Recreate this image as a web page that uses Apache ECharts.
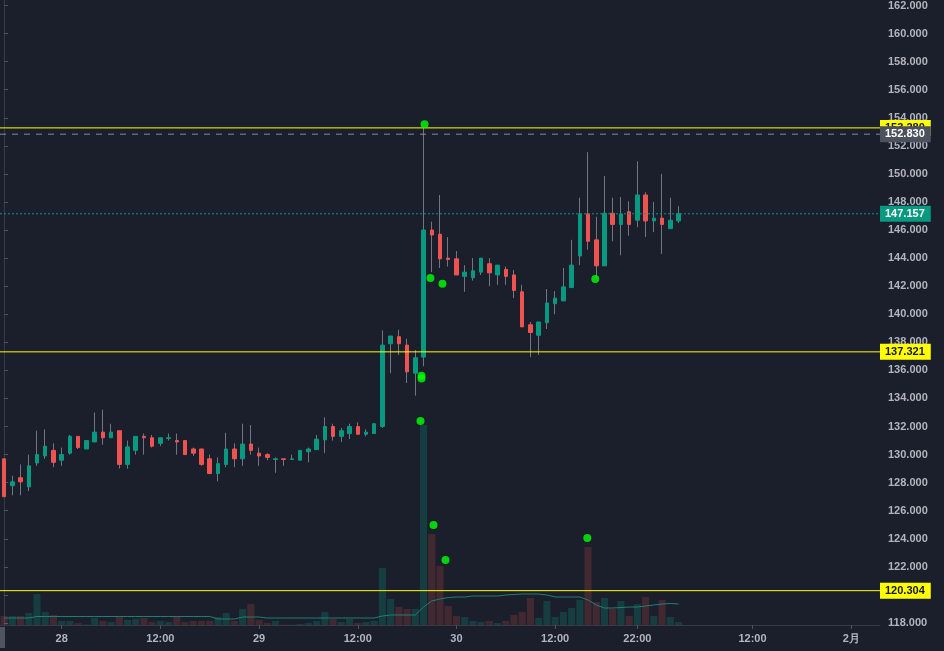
<!DOCTYPE html>
<html><head><meta charset="utf-8">
<script src="https://cdn.jsdelivr.net/npm/echarts@6/dist/echarts.min.js"></script>
<style>html,body{margin:0;padding:0;background:#1b1f2b;overflow:hidden}#c{width:944px;height:651px}</style>
</head><body><div id="c"></div>
<script>
// hourly categories from 27th 17:00 to Feb 1 03:00
const categories = [];
(function(){ let d=27,h=17; for(let i=0;i<107;i++){ categories.push((d>31?'2/1':'1/'+d)+' '+String(h).padStart(2,'0')+':00'); h++; if(h===24){h=0;d++;} } })();

const openP  = [129.7,127.78,128.35,127.7,129.4,129.9,130.3,129.6,130.1,131.3,130.4,130.9,131.6,131.2,131.7,129.3,130.3,131.3,131.2,130.8,131.15,131.0,131.0,130.4,130.4,129.7,128.65,129.3,130.4,129.7,130.75,130.1,130.0,129.65,129.7,129.65,129.6,130.2,130.35,131.05,132.0,131.3,131.5,132.0,131.45,131.5,132.0,137.9,138.4,137.8,135.8,136.95,146.0,145.7,144.0,143.95,142.7,142.6,143.0,143.6,142.8,143.2,142.8,141.6,139.25,138.5,139.4,140.75,140.95,141.9,144.15,147.15,145.3,143.45,147.2,146.4,147.3,146.7,148.5,146.65,146.85,146.1,146.65];
const closeP = [127.0,128.06,128.06,129.2,130.0,130.6,129.45,130.0,131.3,130.5,131.0,131.6,131.2,131.6,129.3,130.55,131.3,131.2,130.6,131.2,131.2,130.9,130.0,130.1,129.3,128.65,129.35,130.4,129.7,130.75,130.3,129.9,129.8,129.7,129.65,129.7,130.3,130.4,131.1,132.0,131.3,131.7,132.0,131.45,131.6,132.2,137.8,138.45,137.9,135.9,136.9,146.0,145.65,143.95,143.9,142.8,143.0,143.1,144.0,142.95,143.5,142.7,141.7,139.1,138.7,139.45,140.8,141.15,141.95,143.5,147.15,145.2,143.45,147.2,146.4,147.15,146.4,148.5,146.65,146.85,146.4,146.7,147.157];
const lowP   = [127.0,127.1,127.1,127.4,129.2,129.7,129.1,129.2,130.0,130.4,130.4,130.9,130.7,131.2,129.0,129.0,130.0,130.0,130.5,130.6,131.0,130.0,130.0,129.9,129.2,128.6,128.1,129.1,129.1,129.2,130.0,129.2,129.6,128.7,129.2,129.65,129.6,129.45,130.35,130.1,131.0,130.9,131.1,131.45,131.3,131.5,131.9,135.8,137.1,135.1,134.2,136.3,143.0,143.3,143.4,142.8,141.6,142.4,142.8,142.0,142.1,142.1,141.15,139.1,136.95,137.1,138.95,140.0,140.95,141.9,143.5,144.6,142.6,143.45,145.2,144.2,145.6,146.2,145.5,145.85,144.3,146.1,146.5];
const highP  = [129.7,128.5,129.3,130.0,131.7,131.8,130.8,130.5,131.4,131.3,131.0,133.0,133.2,132.2,131.7,131.0,131.3,131.5,131.4,131.2,131.5,131.5,131.0,130.5,130.4,130.0,129.8,131.55,130.8,132.2,132.1,130.5,130.1,129.8,129.7,130.0,130.3,130.5,131.4,132.65,132.2,131.9,132.2,132.3,131.8,132.2,138.85,138.45,138.9,138.25,137.45,153.28,146.6,148.5,145.5,144.5,143.5,144.0,144.0,144.0,143.5,143.4,143.15,142.1,139.45,139.45,141.8,141.65,143.3,145.3,148.3,151.55,146.95,149.85,148.3,148.35,148.05,150.9,148.7,148.0,150.0,148.3,147.7];
const volume = [9,9,9,12,31,13,10,4,4,2,0.5,7,4,3,9,5,6,7,3,4,3,9,3,4,4,4,8,12,4,16,21,5,2,4,0.3,0.3,1,2,4,13,6,3,6,2,3,4,57,26,18,16,16,200,91,59,19,9,8,4,3,4,2,4,10,13,27,7,24,8,13,17,25,78,23,27,16,24,9,21,28,9,25,8,3];
const volMA  = [7,7,7,7,8.5,8.5,8.5,8.5,8.5,8.5,8.5,8.5,8.5,8.5,8.5,8.5,8.5,8.5,8.5,8.5,8.5,8.5,8.5,8.5,8.5,8.5,6,6,6,8,8,8,7,7,7,7,7,7,7,7,7,7,7,7,7,7,9,10,10,10,10,18,24,26,27.5,28,28,29,29,29,29,30,30.5,31,31,31,30,28,28,28,28,25,20,17,17,17.5,18,18,19,20,21,21.5,21];
const lineLevels = [153.28,152.83,147.157,137.321,120.304];
const priceDotX = [51.12,50.75,50.75,51.84,53.3,71.88];
const priceDotY = [153.54,135.61,135.42,142.58,142.18,142.51];
const volDotX = [50.63,52.21,53.67,70.91];
const volDotY = [204,100,65,87];
const xTickPos  = [7,19,31,43,55,67,77,91,103];
const xTickText = ['28','12:00','29','12:00','30','12:00','22:00','12:00','2月'];
const X_MIN = -0.5, X_MAX = 106.5;

const UP='#089981', DN='#ef5350', WICK='#737681', TXT='#b2b5be', BG='#1b1f2b', YEL='#ffff00';
const FONT='"Liberation Sans", Arial, sans-serif';

const wickData = openP.map((o,i)=>[o,closeP[i],lowP[i],highP[i]]);
const bodyData = openP.map((o,i)=>[o,closeP[i],Math.min(o,closeP[i]),Math.max(o,closeP[i])]);
const volData = volume.map((v,i)=>({value:v,itemStyle:{color: closeP[i]>=openP[i]?'rgba(8,153,129,0.25)':'rgba(239,83,80,0.19)'}}));
const showTick = (idx)=>xTickPos.indexOf(idx)>=0;

function levelSeries(v,color,type,bg,fg,z){
  return {type:'line',xAxisIndex:1,yAxisIndex:0,data:[[X_MIN,v],[X_MAX,v]],symbol:'none',silent:true,z:z,
    lineStyle:{color:color,width:1,type:type},itemStyle:{color:color},
    endLabel:{show:true,distance:0,align:'left',backgroundColor:bg,color:fg,padding:[3,6,2,5],fontSize:11,fontWeight:'bold',fontFamily:FONT,lineHeight:11,
      formatter:()=>v.toFixed(3)}};
}

const chart = echarts.init(document.getElementById('c'),null,{renderer:'canvas'});
chart.setOption({
  backgroundColor: BG,
  animation:false,
  grid:[
    {left:-1,right:64,top:2.45,bottom:28},
    {left:-1,right:64,top:0,bottom:26}
  ],
  xAxis:[
    {type:'category',gridIndex:0,data:categories,show:false},
    {type:'value',gridIndex:0,min:X_MIN,max:X_MAX,show:false},
    {type:'category',gridIndex:1,data:categories,z:5,
      axisLine:{show:true,lineStyle:{color:'#363a45'}},
      axisTick:{show:true,interval:showTick,alignWithLabel:true,length:4,lineStyle:{color:'#50535e'}},
      axisLabel:{interval:showTick,formatter:(v,idx)=>xTickText[xTickPos.indexOf(idx)]||'',color:TXT,fontSize:11,fontWeight:'bold',fontFamily:FONT,margin:8},
      splitLine:{show:false}},
    {type:'value',gridIndex:1,min:X_MIN,max:X_MAX,show:false}
  ],
  yAxis:[
    {type:'value',gridIndex:0,position:'right',min:118,max:162,interval:2,
      axisLine:{show:false},
      axisTick:{show:true,length:4,lineStyle:{color:'#50535e'}},
      axisLabel:{formatter:v=>v.toFixed(3),color:TXT,fontSize:11,fontWeight:'bold',fontFamily:FONT,margin:8},
      splitLine:{show:false}},
    {type:'value',gridIndex:1,position:'right',min:0,max:625,
      axisLine:{show:true,lineStyle:{color:'#363a45'}},
      axisTick:{show:false},axisLabel:{show:false},splitLine:{show:false}}
  ],
  graphic:[
    {type:'rect',z:3,shape:{x:0,y:626,width:944,height:25},style:{fill:BG},silent:true},
    {type:'rect',z:4,shape:{x:0,y:627,width:5,height:21},style:{fill:'#50545f'},silent:true}
  ],
  series:[
    {type:'bar',name:'vol',xAxisIndex:2,yAxisIndex:1,data:volData,barWidth:'86%',z:1},
    {type:'line',name:'volMA',xAxisIndex:2,yAxisIndex:1,data:volMA,showSymbol:false,lineStyle:{width:1,color:'#1f7f76'},itemStyle:{color:'#1f7f76'},z:1},
    {type:'scatter',xAxisIndex:3,yAxisIndex:1,data:volDotX.map((x,i)=>[x,volDotY[i]]),symbolSize:8,itemStyle:{color:'#00ff00'},z:3},
    {type:'candlestick',name:'wick',xAxisIndex:0,yAxisIndex:0,data:wickData,barWidth:1,
      itemStyle:{color:WICK,color0:WICK,borderColor:WICK,borderColor0:WICK,borderWidth:1}},
    {type:'candlestick',name:'body',xAxisIndex:0,yAxisIndex:0,data:bodyData,barWidth:4,
      itemStyle:{color:UP,color0:DN,borderColor:UP,borderColor0:DN,borderWidth:1}},
    levelSeries(lineLevels[0],YEL,'solid',YEL,'#131722',3),
    levelSeries(lineLevels[1],'#8a8d96',[6,6],'#4c515c','#ffffff',3),
    levelSeries(lineLevels[2],UP,[2,2],UP,'#ffffff',3),
    levelSeries(lineLevels[3],YEL,'solid',YEL,'#131722',3),
    levelSeries(lineLevels[4],YEL,'solid',YEL,'#131722',3),
    {type:'scatter',xAxisIndex:1,yAxisIndex:0,data:priceDotX.map((x,i)=>[x,priceDotY[i]]),symbolSize:8,itemStyle:{color:'#00ff00'},z:4}
  ]
});
</script></body></html>
